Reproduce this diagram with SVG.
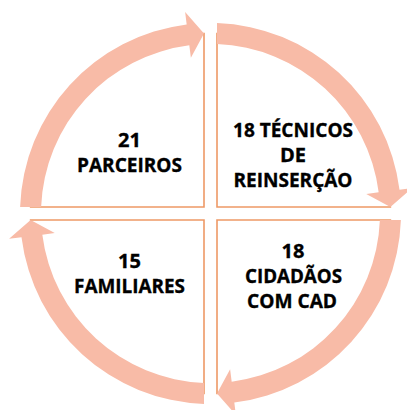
<svg xmlns="http://www.w3.org/2000/svg" width="407" height="410" viewBox="0 0 407 410">
  <style>
    .box { fill: #ffffff; stroke: #EE9966; stroke-width: 1.6; }
    .arrow { fill: #F8BBA7; stroke: none; }
    .lbl { font-family: "Open Sans", "Liberation Sans", sans-serif; font-weight: bold; font-size: 20px; fill: #000000; stroke: #000000; stroke-width: 0.35; text-anchor: middle; }
  </style>
  <defs>
    <path id="arc" d="M -190.39 -6.5 A 190.5 190.5 0 0 1 -23.81 -189.01 L -25.37 -201.41 L -6.5 -179.88 L -19.62 -155.77 L -21.19 -168.17 A 169.5 169.5 0 0 0 -169.38 -6.5 Z"/>
  </defs>
  <rect width="407" height="410" fill="#ffffff"/>
  <g id="node-parceiros">
    <path class="box" d="M204 207 L204 33.62 A180 180 0 0 0 30.62 207 Z"/>
    <text class="lbl" x="129.5" y="147">21</text>
    <text class="lbl" x="129.5" y="171.5" textLength="105" lengthAdjust="spacingAndGlyphs">PARCEIROS</text>
  </g>
  <g id="node-tecnicos">
    <path class="box" d="M217 207 L217 33.62 A180 180 0 0 1 390.38 207 Z"/>
    <text class="lbl" x="293" y="136.5" textLength="120" lengthAdjust="spacingAndGlyphs">18 TÉCNICOS</text>
    <text class="lbl" x="293" y="161.5">DE</text>
    <text class="lbl" x="293" y="186.5" textLength="119" lengthAdjust="spacingAndGlyphs">REINSERÇÃO</text>
  </g>
  <g id="node-cidadaos">
    <path class="box" d="M217 220 L390.38 220 A180 180 0 0 1 217 393.38 Z"/>
    <text class="lbl" x="293" y="258">18</text>
    <text class="lbl" x="293.5" y="283" textLength="97" lengthAdjust="spacingAndGlyphs">CIDADÃOS</text>
    <text class="lbl" x="292" y="308" textLength="90" lengthAdjust="spacingAndGlyphs">COM CAD</text>
  </g>
  <g id="node-familiares">
    <path class="box" d="M204 220 L204 393.38 A180 180 0 0 1 30.62 220 Z"/>
    <text class="lbl" x="129.5" y="268">15</text>
    <text class="lbl" x="129.5" y="293" textLength="111" lengthAdjust="spacingAndGlyphs">FAMILIARES</text>
  </g>
  <g id="connectors">
    <use href="#arc" class="arrow" transform="translate(210.5 213.5)"/>
    <use href="#arc" class="arrow" transform="translate(210.5 213.5) rotate(90)"/>
    <use href="#arc" class="arrow" transform="translate(210.5 213.5) rotate(180)"/>
    <use href="#arc" class="arrow" transform="translate(210.5 213.5) rotate(270)"/>
  </g>
</svg>
